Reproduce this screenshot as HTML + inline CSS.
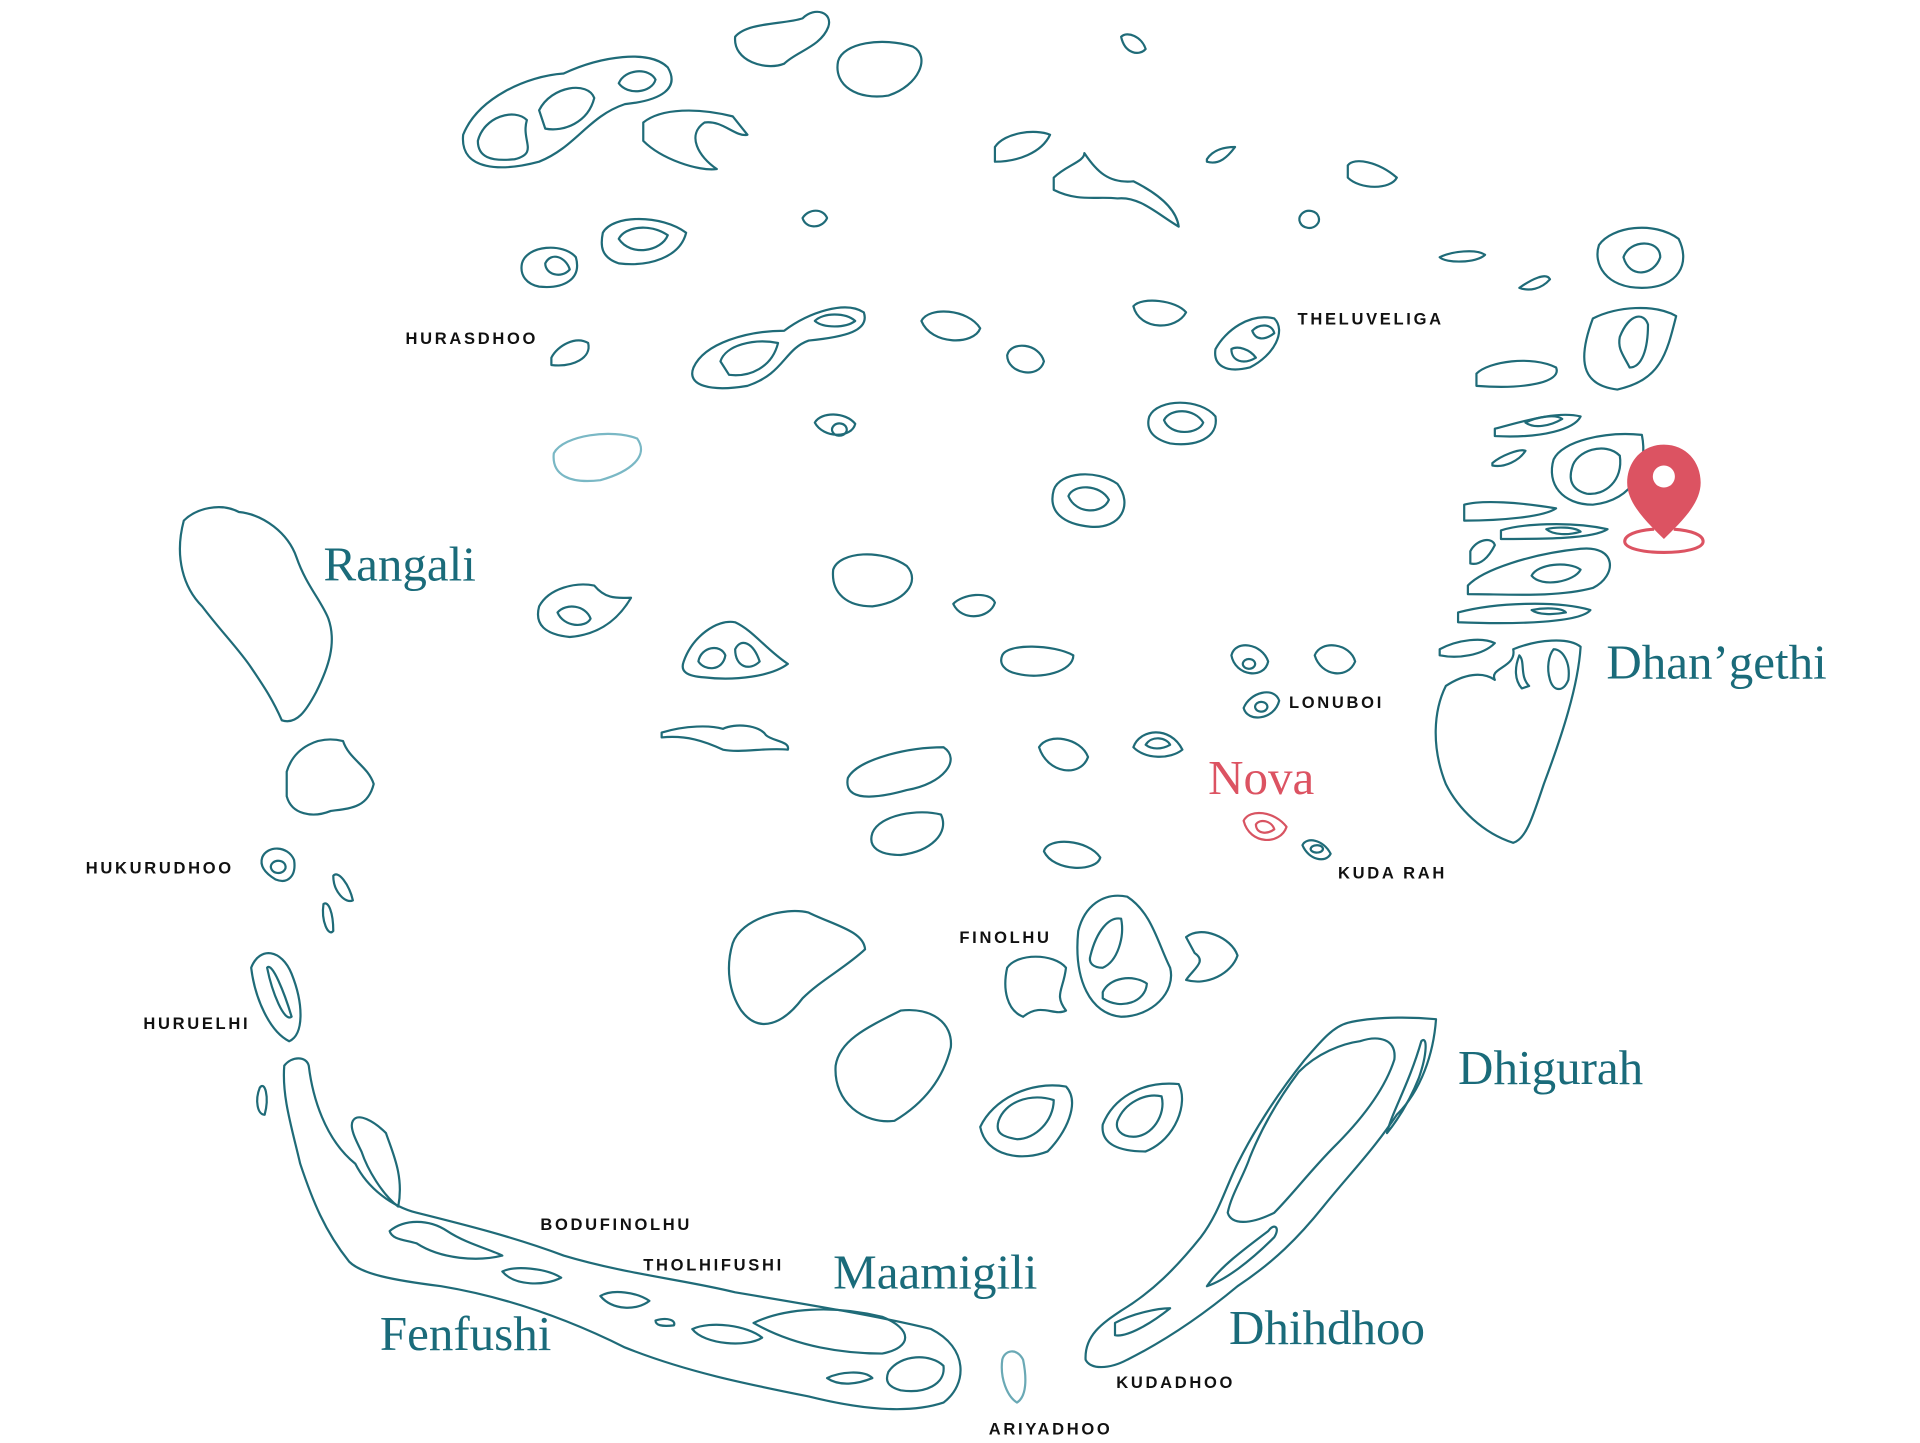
<!DOCTYPE html>
<html><head><meta charset="utf-8"><style>
html,body{margin:0;padding:0;background:#fff;width:1920px;height:1443px;overflow:hidden}
svg{display:block}
.i{fill:none;stroke:#1f6b78;stroke-width:1.8;stroke-linejoin:round}
.s{font-family:"Liberation Sans",sans-serif;font-weight:bold;font-size:13.5px;letter-spacing:2.2px;fill:#111}
.b{font-family:"Liberation Serif",serif;font-size:40px;fill:#1a6b7a}
</style></head><body>
<svg width="1920" height="1443" viewBox="0 0 1567 1178" preserveAspectRatio="none">
<g class="i">
<!-- top cluster -->
<path d="M600 30 C610 18 640 20 655 15 C665 5 680 10 676 22 C670 38 650 42 640 52 C625 58 598 50 600 30Z"/>
<path d="M684 50 C688 35 720 30 745 38 C760 46 750 70 725 78 C700 82 680 70 684 50Z"/>
<path d="M915 30 C920 25 932 30 935 40 C930 46 918 44 915 30Z"/>
<path d="M378 110 C390 80 430 62 460 60 C490 46 530 40 545 55 C555 72 540 82 510 85 C480 95 470 120 440 132 C410 140 375 140 378 110Z"/>
<path d="M390 115 C395 95 420 88 430 98 C425 115 440 125 420 130 C400 132 390 128 390 115Z"/>
<path d="M440 90 C450 70 480 66 485 80 C480 100 460 108 445 105Z"/>
<path d="M505 68 C510 56 530 55 535 65 C532 76 512 78 505 68Z"/>
<path d="M525 100 C540 88 570 88 598 95 L610 110 C600 112 590 98 575 100 C560 110 570 128 585 138 C570 140 540 130 525 115Z"/>
<path d="M812 120 C820 108 845 105 857 110 C850 125 830 132 812 132Z"/>
<path d="M860 145 C870 135 885 132 885 125 C895 140 905 150 925 148 C945 158 960 170 962 185 C945 175 930 160 912 162 C895 160 880 165 860 155Z"/>
<path d="M985 130 C990 122 1000 120 1008 120 C1002 128 995 135 985 132Z"/>
<path d="M1100 135 C1105 128 1125 132 1140 145 C1135 155 1110 155 1100 145Z"/>
<path d="M1062 175 A8 7 0 1 0 1063 174Z"/>
<path d="M655 178 C660 170 672 170 675 178 C672 186 658 188 655 178Z"/>
<path d="M1175 210 C1185 205 1205 203 1212 208 C1205 215 1180 215 1175 210Z"/>
<path d="M1240 235 C1250 228 1262 222 1265 228 C1258 236 1248 238 1240 235Z"/>
<path d="M1305 200 C1315 185 1350 180 1370 195 C1380 215 1370 235 1340 235 C1310 235 1300 215 1305 200Z"/>
<path d="M1325 210 C1330 195 1355 195 1355 210 C1350 225 1330 228 1325 210Z"/>
<path d="M1300 260 C1320 250 1350 248 1368 258 C1360 290 1355 310 1320 318 C1295 315 1285 300 1300 260Z"/>
<path d="M1322 275 C1330 255 1342 255 1345 265 C1345 285 1340 300 1330 300 C1325 290 1320 285 1322 275Z"/>
<path d="M426 215 C430 200 460 198 470 210 C475 228 460 236 440 234 C430 232 424 225 426 215Z"/>
<path d="M445 215 C450 205 462 210 465 220 C458 228 445 224 445 215Z"/>
<path d="M492 190 C500 175 540 175 560 190 C555 210 530 218 505 215 C490 210 490 200 492 190Z"/>
<path d="M505 195 C510 185 530 182 545 192 C540 205 515 210 505 195Z"/>
<path d="M450 292 C455 282 470 274 480 280 C483 292 468 300 450 298Z"/>
<path d="M566 300 C575 280 610 270 640 270 C660 255 690 245 705 255 C710 270 690 275 660 278 C640 285 640 305 610 315 C580 320 560 315 566 300Z"/>
<path d="M588 295 C592 282 615 276 635 280 C630 300 612 308 595 306Z"/>
<path d="M665 262 C672 255 690 255 698 262 C690 268 672 268 665 262Z"/>
<path d="M752 262 C758 250 790 252 800 268 C795 282 760 282 752 262Z"/>
<path d="M822 290 C825 278 848 280 852 295 C848 310 822 305 822 290Z"/>
<path d="M925 250 C932 242 960 245 968 255 C960 270 930 270 925 250Z"/>
<path d="M992 285 C1000 270 1020 255 1040 260 C1050 270 1040 290 1020 300 C1000 305 990 298 992 285Z"/>
<path d="M1005 285 C1010 282 1020 285 1025 292 C1015 298 1005 295 1005 285Z"/>
<path d="M1022 270 C1028 264 1038 264 1040 272 C1032 278 1025 278 1022 270Z"/>
<path d="M1205 305 C1215 295 1250 290 1270 300 C1275 312 1245 318 1205 315Z"/>
<path d="M665 345 C670 336 690 336 698 346 C695 358 672 358 665 345Z"/>
<path d="M680 348 A6 5 0 1 0 681 347Z"/>
<path d="M938 340 C945 325 980 325 992 340 C995 358 975 365 955 362 C940 358 935 350 938 340Z"/>
<path d="M950 343 C955 333 975 333 982 345 C978 355 955 356 950 343Z"/>
<path d="M1220 350 C1240 345 1270 335 1290 340 C1285 350 1260 358 1220 356Z"/>
<path d="M1245 345 C1255 340 1270 338 1275 342 C1265 348 1252 350 1245 345Z"/>
<path d="M1218 378 C1225 372 1240 366 1245 368 C1240 376 1228 382 1218 380Z"/>
<path d="M1268 375 C1275 360 1310 352 1340 355 C1345 380 1335 408 1300 412 C1275 412 1262 395 1268 375Z"/>
<path d="M1283 382 C1286 368 1310 360 1322 372 C1325 392 1310 405 1295 403 C1283 400 1280 392 1283 382Z"/>
<path d="M452 370 C460 355 500 350 520 358 C530 372 515 385 490 392 C465 395 450 388 452 370Z" style="stroke:#7ab8c5"/>
<path d="M860 400 C865 385 895 383 912 395 C925 412 915 432 890 430 C868 428 855 418 860 400Z"/>
<path d="M872 405 C876 395 898 395 905 408 C900 420 878 420 872 405Z"/>
<!-- Rangali -->
<path d="M150 425 C160 415 180 410 195 418 C215 420 235 435 242 455 C250 478 262 490 268 505 C275 525 268 545 258 565 C250 580 242 592 230 588 C222 570 215 560 205 545 C195 530 180 515 165 495 C150 480 142 455 150 425Z"/>
<path d="M1195 412 C1210 408 1240 410 1270 415 C1260 422 1225 425 1195 425Z"/>
<path d="M1225 433 C1240 428 1280 425 1312 432 C1300 440 1260 440 1225 440Z"/>
<path d="M1262 432 C1270 430 1285 430 1290 434 C1280 437 1268 437 1262 432Z"/>
<path d="M1200 450 C1205 440 1218 438 1220 445 C1215 455 1208 462 1200 460Z"/>
<path d="M1198 478 C1210 465 1250 452 1290 448 C1320 445 1320 470 1300 480 C1270 488 1230 485 1198 485Z"/>
<path d="M1250 470 C1255 460 1280 458 1290 465 C1285 475 1258 480 1250 470Z"/>
<path d="M1190 500 C1220 492 1270 490 1298 498 C1290 508 1240 510 1190 508Z"/>
<path d="M1250 498 C1260 496 1275 496 1278 500 C1268 502 1255 502 1250 498Z"/>
<path d="M1175 530 C1190 522 1210 520 1220 525 C1210 535 1190 538 1175 535Z"/>
<path d="M1235 530 C1255 522 1280 520 1290 528 C1288 560 1275 600 1260 640 C1250 670 1245 685 1235 688 C1210 680 1190 660 1180 640 C1168 610 1170 580 1180 560 C1195 550 1210 548 1220 555 C1215 545 1238 545 1235 530Z"/>
<path d="M1268 530 C1275 530 1282 540 1280 555 C1276 565 1268 565 1265 555 C1262 545 1264 535 1268 530Z"/>
<path d="M1240 535 C1245 540 1240 552 1248 560 L1242 562 C1236 555 1236 545 1240 535Z"/>
<path d="M680 465 C685 450 720 448 740 462 C752 475 738 492 712 495 C692 495 678 485 680 465Z"/>
<path d="M440 495 C448 480 470 475 485 478 C495 490 505 488 515 488 C505 505 490 518 465 520 C445 518 436 510 440 495Z"/>
<path d="M455 500 C462 492 478 494 482 505 C478 513 460 512 455 500Z"/>
<path d="M778 493 C785 485 808 482 812 492 C808 505 785 508 778 493Z"/>
<path d="M558 540 C565 520 585 505 600 508 C615 515 625 530 643 542 C630 552 600 556 575 553 C560 552 555 548 558 540Z"/>
<path d="M570 540 C572 528 588 525 592 535 C590 548 575 548 570 540Z"/>
<path d="M600 530 C605 520 615 525 620 540 C612 548 600 545 600 530Z"/>
<path d="M818 535 C822 525 860 526 876 535 C876 548 850 555 830 550 C820 548 815 542 818 535Z"/>
<path d="M1005 535 C1008 522 1030 525 1035 540 C1032 555 1008 552 1005 535Z"/>
<path d="M1015 540 A5 4 0 1 0 1016 539Z"/>
<path d="M1073 535 C1078 522 1102 525 1106 540 C1100 555 1078 552 1073 535Z"/>
<path d="M1015 578 C1020 565 1040 560 1044 572 C1040 588 1018 590 1015 578Z"/>
<path d="M1025 575 A5 4 0 1 0 1026 574Z"/>
<path d="M540 598 C560 592 580 592 590 595 C600 590 620 592 625 600 C630 605 645 605 643 612 C625 610 605 615 590 612 C575 605 560 600 540 602Z"/>
<path d="M234 630 C240 610 260 600 280 605 C285 620 300 625 305 640 C300 660 285 660 270 662 C255 668 238 665 234 650Z"/>
<path d="M848 610 C855 598 882 602 888 618 C882 635 855 632 848 610Z"/>
<path d="M925 610 C930 595 955 592 965 612 C955 620 935 620 925 610Z"/>
<path d="M935 608 C940 600 952 602 955 608 C948 612 940 612 935 608Z"/>
<path d="M692 635 C700 620 740 610 770 610 C785 620 770 640 740 645 C715 652 688 655 692 635Z"/>
<path d="M712 680 C718 665 750 660 768 665 C775 680 760 695 735 698 C718 698 708 692 712 680Z"/>
<path d="M1015 670 C1020 660 1040 662 1050 675 C1045 690 1020 690 1015 670Z" style="stroke:#d85462"/>
<path d="M1025 673 C1028 668 1038 670 1040 677 C1033 682 1025 680 1025 673Z" style="stroke:#d85462"/>
<path d="M1063 690 C1066 683 1080 685 1086 697 C1082 705 1068 702 1063 690Z"/>
<path d="M1070 692 A5 3 0 1 0 1071 691Z"/>
<path d="M852 695 C855 683 888 685 898 700 C895 712 860 712 852 695Z"/>
<path d="M214 700 C218 690 235 690 240 702 C242 715 235 722 225 718 C215 712 212 706 214 700Z"/>
<path d="M222 705 A6 5 0 1 0 223 704Z"/>
<path d="M272 715 C276 710 285 722 288 735 C282 738 272 728 272 715Z"/>
<path d="M264 738 C268 735 272 745 272 760 C268 765 262 752 264 738Z"/>
<path d="M598 770 C605 750 640 740 660 745 C680 755 705 760 706 775 C690 790 670 800 655 815 C640 835 620 845 605 825 C595 810 592 790 598 770Z"/>
<path d="M880 760 C885 740 900 728 920 732 C940 745 945 770 955 790 C960 810 940 830 915 830 C890 828 876 800 880 760Z"/>
<path d="M890 780 C895 760 905 748 915 750 C918 765 912 785 900 790 C892 790 888 786 890 780Z"/>
<path d="M900 810 C905 798 925 795 936 803 C935 818 915 825 900 815Z"/>
<path d="M968 765 C980 755 1005 765 1010 780 C1005 795 985 805 968 800 C975 790 985 785 975 778Z"/>
<path d="M822 790 C830 778 860 778 870 790 C868 808 860 812 870 825 C860 830 850 818 835 830 C822 825 818 808 822 790Z"/>
<path d="M205 790 C212 772 230 775 238 795 C248 820 248 845 236 850 C220 842 208 815 205 790Z"/>
<path d="M218 790 C222 785 232 810 238 830 C232 835 222 810 218 790Z"/>
<path d="M682 870 C685 850 705 840 735 825 C760 822 778 835 776 855 C770 880 755 900 730 915 C705 918 680 900 682 870Z"/>
<path d="M212 888 C216 882 220 895 216 910 C210 910 208 898 212 888Z"/>
<path d="M800 920 C810 898 840 882 870 887 C882 900 870 925 855 940 C835 948 805 945 800 920Z"/>
<path d="M815 915 C820 900 840 892 860 898 C860 915 845 930 830 930 C818 928 812 925 815 915Z"/>
<path d="M900 918 C908 898 930 882 962 885 C970 900 960 930 935 940 C915 940 898 935 900 918Z"/>
<path d="M912 915 C918 900 935 892 948 895 C952 910 940 928 925 928 C915 928 910 922 912 915Z"/>
<!-- Fenfushi / Maamigili atoll -->
<path d="M232 870 C238 862 250 862 252 870 C255 895 265 930 290 950 C300 970 320 985 340 990 C380 1000 420 1010 460 1025 C510 1040 560 1045 600 1055 C660 1065 720 1075 760 1085 C790 1100 790 1130 770 1145 C740 1155 700 1150 660 1140 C610 1130 560 1120 510 1100 C470 1080 420 1060 360 1050 C320 1045 295 1040 285 1030 C265 1005 255 980 245 950 C238 920 230 895 232 870Z"/>
<path d="M288 915 C292 908 305 915 315 925 C320 940 330 960 325 985 C312 975 300 955 295 940 C290 930 285 920 288 915Z"/>
<path d="M318 1005 C330 995 350 995 365 1005 C380 1015 400 1020 410 1025 C390 1030 360 1028 340 1015 C330 1012 320 1012 318 1005Z"/>
<path d="M410 1038 C420 1033 445 1035 458 1043 C445 1050 420 1050 410 1038Z"/>
<path d="M490 1058 C500 1052 520 1055 530 1062 C520 1070 500 1070 490 1058Z"/>
<path d="M535 1078 C545 1075 552 1078 550 1082 C540 1083 535 1082 535 1078Z"/>
<path d="M565 1085 C580 1078 610 1082 622 1092 C610 1100 575 1098 565 1085Z"/>
<path d="M615 1080 C640 1068 680 1065 720 1075 C745 1085 745 1100 720 1105 C690 1105 650 1100 615 1080Z"/>
<path d="M725 1120 C735 1105 760 1105 770 1115 C772 1130 755 1138 735 1135 C725 1132 722 1128 725 1120Z"/>
<path d="M675 1125 C685 1120 705 1118 712 1125 C700 1130 685 1132 675 1125Z"/>
<path d="M818 1110 C820 1102 830 1100 835 1110 C838 1125 838 1140 830 1145 C822 1140 816 1125 818 1110Z" style="stroke:#6aa9b5"/>
<!-- Dhigurah / Dhihdhoo atoll -->
<path d="M1100 835 C1120 830 1150 830 1172 832 C1170 860 1160 890 1140 910 C1120 940 1100 960 1080 985 C1060 1010 1040 1030 1010 1050 C980 1075 950 1095 920 1110 C905 1118 890 1118 886 1110 C885 1090 900 1080 915 1070 C940 1055 960 1035 980 1010 C995 990 1000 970 1010 950 C1025 920 1045 890 1065 865 C1078 850 1088 838 1100 835Z"/>
<path d="M1110 850 C1125 845 1140 848 1138 865 C1130 890 1110 915 1090 935 C1070 955 1055 975 1040 990 C1020 1000 1005 1000 1002 990 C1005 975 1015 960 1020 945 C1030 920 1045 895 1060 875 C1075 860 1095 852 1110 850Z"/>
<path d="M1160 850 C1165 845 1165 860 1158 880 C1150 900 1140 915 1132 925 C1135 910 1150 885 1160 850Z"/>
<path d="M1035 1005 C1040 998 1045 1002 1040 1010 C1020 1030 1000 1045 985 1050 C995 1035 1015 1020 1035 1005Z"/>
<path d="M910 1080 C925 1072 945 1068 955 1068 C940 1080 920 1092 910 1090Z"/>
</g>
<!-- pin -->
<g fill="#dc5362">
<path d="M1358 363 C1340 363 1328 377 1328 394 C1328 412 1346 428 1358 440 C1370 428 1388 412 1388 394 C1388 377 1376 363 1358 363Z M1358 380 A9 9 0 1 1 1357.9 380Z" fill-rule="evenodd"/>
</g>
<path d="M1350 432 C1335 433 1326 437 1326 442 C1326 448 1342 451 1358 451 C1374 451 1390 448 1390 442 C1390 437 1381 433 1366 432" fill="none" stroke="#dc5362" stroke-width="2.5"/>
<!-- labels -->
<text class="b" x="264" y="474">Rangali</text>
<text class="b" x="1311" y="554">Dhan’gethi</text>
<text class="b" x="986" y="648" style="fill:#dc5362">Nova</text>
<text class="b" x="1190" y="885">Dhigurah</text>
<text class="b" x="680" y="1052">Maamigili</text>
<text class="b" x="310" y="1102">Fenfushi</text>
<text class="b" x="1003" y="1097">Dhihdhoo</text>
<text class="s" x="331" y="281">HURASDHOO</text>
<text class="s" x="1059" y="265">THELUVELIGA</text>
<text class="s" x="1052" y="578">LONUBOI</text>
<text class="s" x="1092" y="717">KUDA RAH</text>
<text class="s" x="70" y="713">HUKURUDHOO</text>
<text class="s" x="783" y="770">FINOLHU</text>
<text class="s" x="117" y="840">HURUELHI</text>
<text class="s" x="441" y="1004">BODUFINOLHU</text>
<text class="s" x="525" y="1037">THOLHIFUSHI</text>
<text class="s" x="911" y="1133">KUDADHOO</text>
<text class="s" x="807" y="1171">ARIYADHOO</text>
</svg>
</body></html>
